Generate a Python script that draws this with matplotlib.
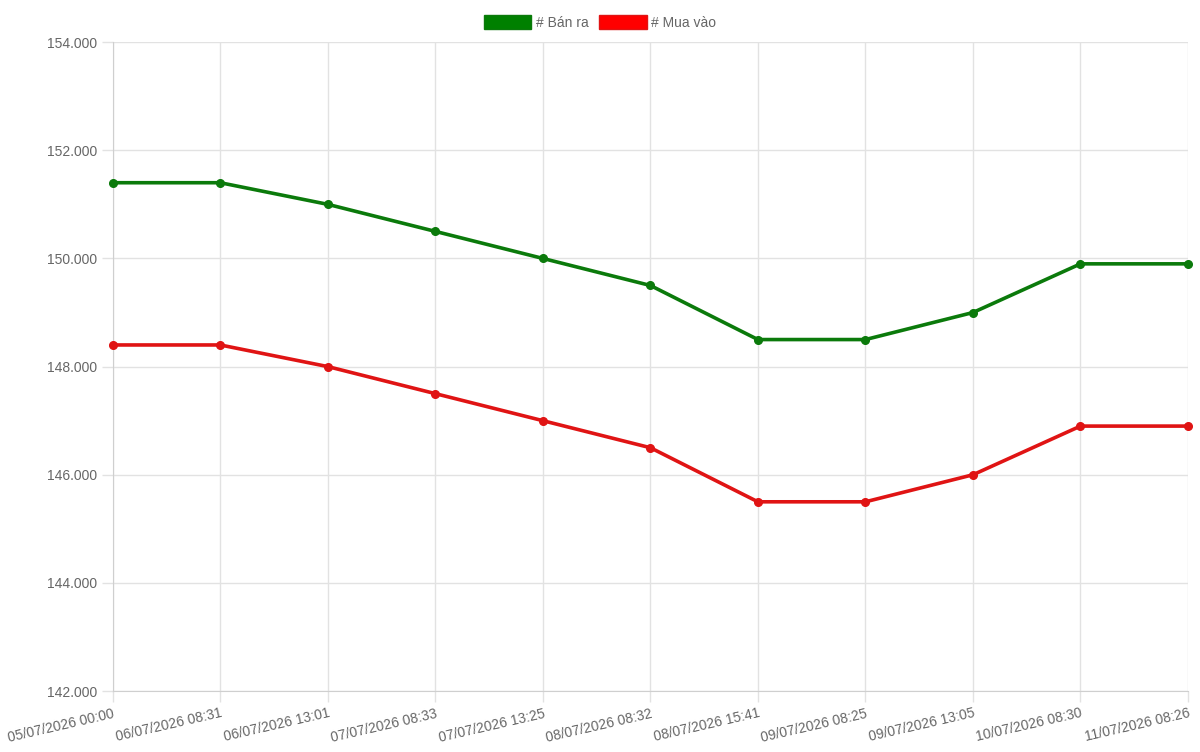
import matplotlib
matplotlib.use("Agg")
import matplotlib.pyplot as plt
from matplotlib.patches import Patch
from matplotlib.ticker import FuncFormatter

plt.rcParams["font.family"] = ["Liberation Sans", "DejaVu Sans"]

# Data
labels = [
    "05/07/2026 00:00", "06/07/2026 08:31", "06/07/2026 13:01",
    "07/07/2026 08:33", "07/07/2026 13:25", "08/07/2026 08:32",
    "08/07/2026 15:41", "09/07/2026 08:25", "09/07/2026 13:05",
    "10/07/2026 08:30", "11/07/2026 08:26",
]
ban_ra = [151400, 151400, 151000, 150500, 150000, 149500,
          148500, 148500, 149000, 149900, 149900]
mua_vao = [148400, 148400, 148000, 147500, 147000, 146500,
           145500, 145500, 146000, 146900, 146900]

green = "#0b7a0b"
red = "#e01414"

fig = plt.figure(figsize=(12, 7.52), dpi=100)
ax = fig.add_axes([0.094, 0.081, 0.896, 0.863])

x = list(range(len(labels)))
ax.plot(x, ban_ra, color=green, lw=2.6, marker="o", ms=5.5, zorder=3, clip_on=False)
ax.plot(x, mua_vao, color=red, lw=2.6, marker="o", ms=5.5, zorder=3, clip_on=False)

ax.set_xlim(0, len(labels) - 1)
ax.set_ylim(142000, 154000)
ax.set_yticks(range(142000, 154001, 2000))
ax.yaxis.set_major_formatter(FuncFormatter(lambda v, p: f"{int(v):,}".replace(",", ".")))
ax.set_xticks(x)
ax.set_xticklabels(labels, rotation=13, ha="right", rotation_mode="anchor")

ax.grid(True, color="#e2e2e2", lw=1)
ax.set_axisbelow(True)
for s in ["top", "right"]:
    ax.spines[s].set_visible(False)
for s in ["left", "bottom"]:
    ax.spines[s].set_color("#cfcfcf")
ax.tick_params(colors="#e2e2e2", labelcolor="#666666", labelsize=10, length=8, width=1, pad=3)

handles = [
    Patch(facecolor="#008000", edgecolor="#0b7a0b", label="# Bán ra"),
    Patch(facecolor="#ff0000", edgecolor="#e01414", label="# Mua vào"),
]
fig.legend(handles=handles, loc="center", bbox_to_anchor=(0.5, 0.97), ncol=2,
           frameon=False, handlelength=3.4, handleheight=1.2, handletextpad=0.3,
           columnspacing=0.8, fontsize=10, labelcolor="#666666")

fig.savefig("out.png", dpi=100)
